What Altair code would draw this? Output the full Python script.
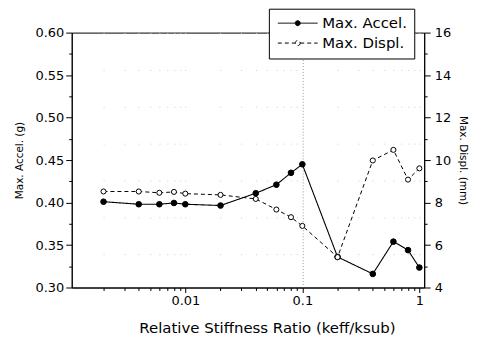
import altair as alt
import pandas as pd

ratio = [0.002, 0.004, 0.006, 0.008, 0.01, 0.02, 0.04, 0.06, 0.08, 0.1, 0.2, 0.4, 0.6, 0.8, 1.0]
max_accel = [0.401, 0.398, 0.398, 0.3995, 0.398, 0.3965, 0.411, 0.421, 0.435, 0.445,
             0.336, 0.316, 0.354, 0.344, 0.3235]
max_displ = [8.52, 8.52, 8.46, 8.50, 8.42, 8.36, 8.17, 7.67, 7.31, 6.90,
             5.43, 9.98, 10.48, 9.08, 9.61]
series_names = ["Max. Accel.", "Max. Displ."]

x_ticks = [0.002, 0.003, 0.004, 0.005, 0.006, 0.007, 0.008, 0.009,
           0.01, 0.02, 0.03, 0.04, 0.05, 0.06, 0.07, 0.08, 0.09,
           0.1, 0.2, 0.3, 0.4, 0.5, 0.6, 0.7, 0.8, 0.9, 1]
accel_ticks = [0.3, 0.325, 0.35, 0.375, 0.4, 0.425, 0.45, 0.475, 0.5,
               0.525, 0.55, 0.575, 0.6]
displ_ticks = [4, 5, 6, 7, 8, 9, 10, 11, 12, 13, 14, 15, 16]

df_a = pd.DataFrame({"ratio": ratio, "value": max_accel, "series": series_names[0]})
df_d = pd.DataFrame({"ratio": ratio, "value": max_displ, "series": series_names[1]})

FONT = "DejaVu Sans"
major_x = "datum.value == 0.01 || datum.value == 0.1 || datum.value == 1"

x_enc = alt.X(
    "ratio:Q",
    scale=alt.Scale(type="log", domain=[0.00107, 1.10], nice=False),
    axis=alt.Axis(
        values=x_ticks,
        labelExpr="datum.value == 0.01 ? '0.01' : datum.value == 0.1 ? '0.1' : datum.value == 1 ? '1' : ''",
        title="Relative Stiffness Ratio (keff/ksub)",
        titleFontSize=15,
        titlePadding=13,
        titleX=196,
        titleColor="black",
        labelPadding=2,
        labelFontSize=13,
        labelColor="black",
        tickSize={"condition": {"test": major_x, "value": 5}, "value": 3},
        grid=True,
        gridDash={"condition": {"test": "datum.value == 0.1", "value": [1, 2]}, "value": [1, 36]},
        gridColor={"condition": {"test": "datum.value == 0.1", "value": "#999999"}, "value": "#cccccc"},
        gridWidth=1,
    ),
)

y_left = alt.Y(
    "value:Q",
    scale=alt.Scale(domain=[0.3, 0.6], nice=False, zero=False),
    axis=alt.Axis(
        orient="left",
        values=accel_ticks,
        labelExpr="abs(datum.value * 20 - round(datum.value * 20)) < 0.001 ? format(datum.value, '.2f') : ''",
        tickSize={"condition": {"test": "abs(datum.value * 20 - round(datum.value * 20)) < 0.001", "value": 6}, "value": 3},
        title="Max. Accel. (g)",
        titleFontSize=10.5,
        titlePadding=10,
        titleColor="black",
        labelPadding=2,
        labelFontSize=13,
        labelColor="black",
        grid=False,
    ),
)

y_right = alt.Y(
    "value:Q",
    scale=alt.Scale(domain=[4, 16], nice=False, zero=False),
    axis=alt.Axis(
        orient="right",
        values=displ_ticks,
        labelExpr="datum.value % 2 == 0 ? format(datum.value, 'd') : ''",
        tickSize={"condition": {"test": "datum.value % 2 == 0", "value": 6}, "value": 3},
        title="Max. Displ. (mm)",
        titleFontSize=10.5,
        titlePadding=7,
        titleColor="black",
        labelPadding=4,
        labelFontSize=13,
        labelColor="black",
        grid=False,
    ),
)

dash_enc = alt.StrokeDash(
    "series:N",
    scale=alt.Scale(domain=series_names, range=[[1, 0], [4, 3]]),
    legend=alt.Legend(title=None),
)
fill_enc = alt.Fill(
    "series:N",
    scale=alt.Scale(domain=series_names, range=["black", "white"]),
    legend=alt.Legend(title=None),
)

accel_line = alt.Chart(df_a).mark_line(color="black", strokeWidth=1.1).encode(
    x=x_enc, y=y_left, strokeDash=dash_enc)
accel_pts = alt.Chart(df_a).mark_point(filled=True, shape="circle", size=32, stroke="black",
                                       strokeWidth=1, opacity=1).encode(
    x=x_enc, y=y_left, fill=fill_enc)
displ_line = alt.Chart(df_d).mark_line(color="black", strokeWidth=1).encode(
    x=x_enc, y=y_right, strokeDash=dash_enc)
displ_pts = alt.Chart(df_d).mark_point(filled=True, shape="circle", size=26, stroke="black",
                                       strokeWidth=1, opacity=1).encode(
    x=x_enc, y=y_right, fill=fill_enc)

left = alt.layer(accel_line, accel_pts)
right = alt.layer(displ_line, displ_pts)

chart = (
    alt.layer(left, right)
    .resolve_scale(y="independent")
    .properties(
        width=354,
        height=256,
        autosize=alt.AutoSizeParams(type="none"),
        padding={"left": 64, "top": 24, "right": 47, "bottom": 52},
        background="white",
    )
    .configure_view(stroke="black", strokeWidth=1)
    .configure_axis(
        domainColor="black",
        tickColor="black",
        labelColor="black",
        titleColor="black",
        labelFont=FONT,
        titleFont=FONT,
        titleFontWeight="normal",
        domainWidth=1,
        tickWidth=1,
    )
    .configure_legend(
        orient="none",
        legendX=198,
        legendY=-24,
        symbolType="M-4,0L-0.5,0M0.5,0L4,0M0.5,0A0.5,0.5,0,1,1,-0.5,0A0.5,0.5,0,1,1,0.5,0Z",
        symbolSize=100,
        symbolOffset=14.5,
        symbolStrokeColor="black",
        symbolStrokeWidth=1,
        labelFont=FONT,
        labelFontSize=15,
        labelColor="black",
        labelOffset=17,
        padding=7,
        rowPadding=4,
        strokeColor="black",
        fillColor="white",
        cornerRadius=0,
    )
)

chart.save("out.html", embed_options={"renderer": "svg", "actions": False})
